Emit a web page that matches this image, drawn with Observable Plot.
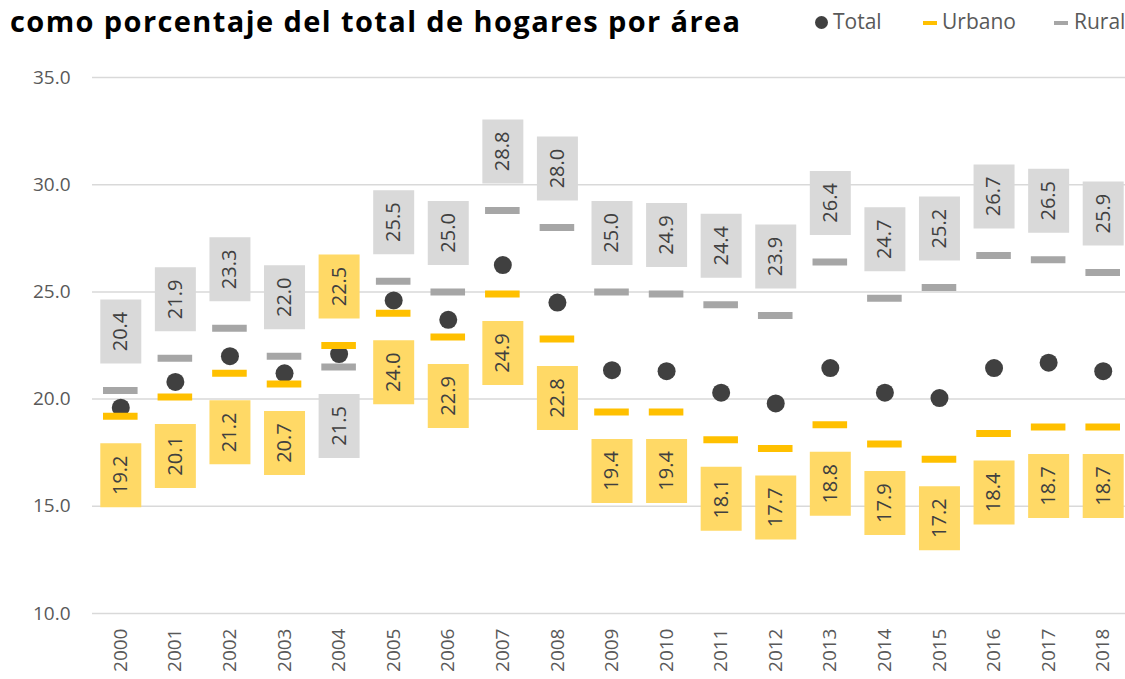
<!DOCTYPE html>
<html>
<head>
<meta charset="utf-8">
<script src="https://cdn.jsdelivr.net/npm/d3@7"></script>
<script src="https://cdn.jsdelivr.net/npm/@observablehq/plot@0.6"></script>
<style>
  body { margin: 0; background: #fff; }
  #wrap { position: relative; width: 1125px; height: 679px; overflow: hidden; }
  #title { position: absolute; left: 10px; top: 1px; font-family: "Open Sans", sans-serif; font-weight: 700; font-size: 29px; letter-spacing: 1.4px; color: #000; white-space: nowrap; }
  .lg { position: absolute; font-family: "Open Sans", sans-serif; font-size: 21px; color: #595959; white-space: nowrap; line-height: 1; }
  .sw { position: absolute; }
  #chart { position: absolute; left: 0; top: 0; }
</style>
</head>
<body>
<div id="wrap">
  <div id="chart"></div>
  <div id="title">como porcentaje del total de hogares por área</div>
  <span class="sw" style="left:815px; top:16px; width:13px; height:13px; border-radius:50%; background:#404040"></span>
  <span class="lg" style="left:833px; top:11px">Total</span>
  <span class="sw" style="left:923px; top:21px; width:14px; height:4px; background:#FFC000"></span>
  <span class="lg" style="left:942px; top:11px">Urbano</span>
  <span class="sw" style="left:1054px; top:21px; width:14px; height:4px; background:#A6A6A6"></span>
  <span class="lg" style="left:1074px; top:11px">Rural</span>
</div>
<script>
const years = ["2000","2001","2002","2003","2004","2005","2006","2007","2008","2009","2010","2011","2012","2013","2014","2015","2016","2017","2018"];
const total = [19.6,20.8,22.0,21.2,22.1,24.6,23.7,26.25,24.5,21.35,21.3,20.3,19.8,21.45,20.3,20.05,21.45,21.7,21.3];
const urbano = [19.2,20.1,21.2,20.7,22.5,24.0,22.9,24.9,22.8,19.4,19.4,18.1,17.7,18.8,17.9,17.2,18.4,18.7,18.7];
const rural = [20.4,21.9,23.3,22.0,21.5,25.5,25.0,28.8,28.0,25.0,24.9,24.4,23.9,26.4,24.7,25.2,26.7,26.5,25.9];
const yTicks = [10,15,20,25,30,35];

const rows = years.map((year, i) => ({year, total: total[i], urbano: urbano[i], rural: rural[i]}));
const labels = [];
rows.forEach(r => {
  const urbHigh = r.urbano > r.rural;
  labels.push({year: r.year, value: r.urbano, serie: "Urbano", pos: urbHigh ? "above" : "below"});
  labels.push({year: r.year, value: r.rural, serie: "Rural", pos: urbHigh ? "below" : "above"});
});
const boxColor = {Urbano: "#FFD966", Rural: "#D9D9D9"};
const boxSymbol = { draw(ctx) { ctx.rect(-20.5, -32, 41, 64); } };
const OFF = 59;

const chart = Plot.plot({
  width: 1125,
  height: 679,
  marginTop: 77,
  marginBottom: 66,
  marginLeft: 92,
  marginRight: 0,
  style: {fontFamily: "Open Sans, sans-serif", background: "transparent"},
  x: {type: "band", domain: years, range: [93, 1130], padding: 0, round: false, label: null},
  y: {domain: [10, 35], label: null},
  marks: [
    Plot.ruleY(yTicks, {stroke: "#D9D9D9", strokeWidth: 1.5}),
    Plot.axisY({ticks: yTicks, tickFormat: d3.format(".1f"), tickSize: 0, tickPadding: 22, fontSize: 19, fill: "#595959", label: null}),
    Plot.axisX({tickRotate: -90, tickSize: 0, tickPadding: 15, fontSize: 19, fill: "#595959", label: null}),
    Plot.dot(labels.filter(d => d.pos === "below"), {x: "year", y: "value", symbol: boxSymbol, fill: d => boxColor[d.serie], dy: OFF}),
    Plot.dot(labels.filter(d => d.pos === "above"), {x: "year", y: "value", symbol: boxSymbol, fill: d => boxColor[d.serie], dy: -OFF}),
    Plot.text(labels.filter(d => d.pos === "below"), {x: "year", y: "value", text: d => d.value.toFixed(1), rotate: -90, dy: OFF, fontSize: 20, fill: "#404040"}),
    Plot.text(labels.filter(d => d.pos === "above"), {x: "year", y: "value", text: d => d.value.toFixed(1), rotate: -90, dy: -OFF, fontSize: 20, fill: "#404040"}),
    Plot.dot(rows, {x: "year", y: "total", r: 9, fill: "#404040"}),
    Plot.tickY(rows, {x: "year", y: "urbano", stroke: "#FFC000", strokeWidth: 7, insetLeft: 10, insetRight: 10}),
    Plot.tickY(rows, {x: "year", y: "rural", stroke: "#A6A6A6", strokeWidth: 7, insetLeft: 10, insetRight: 10})
  ]
});
document.getElementById("chart").appendChild(chart);
</script>
</body>
</html>
